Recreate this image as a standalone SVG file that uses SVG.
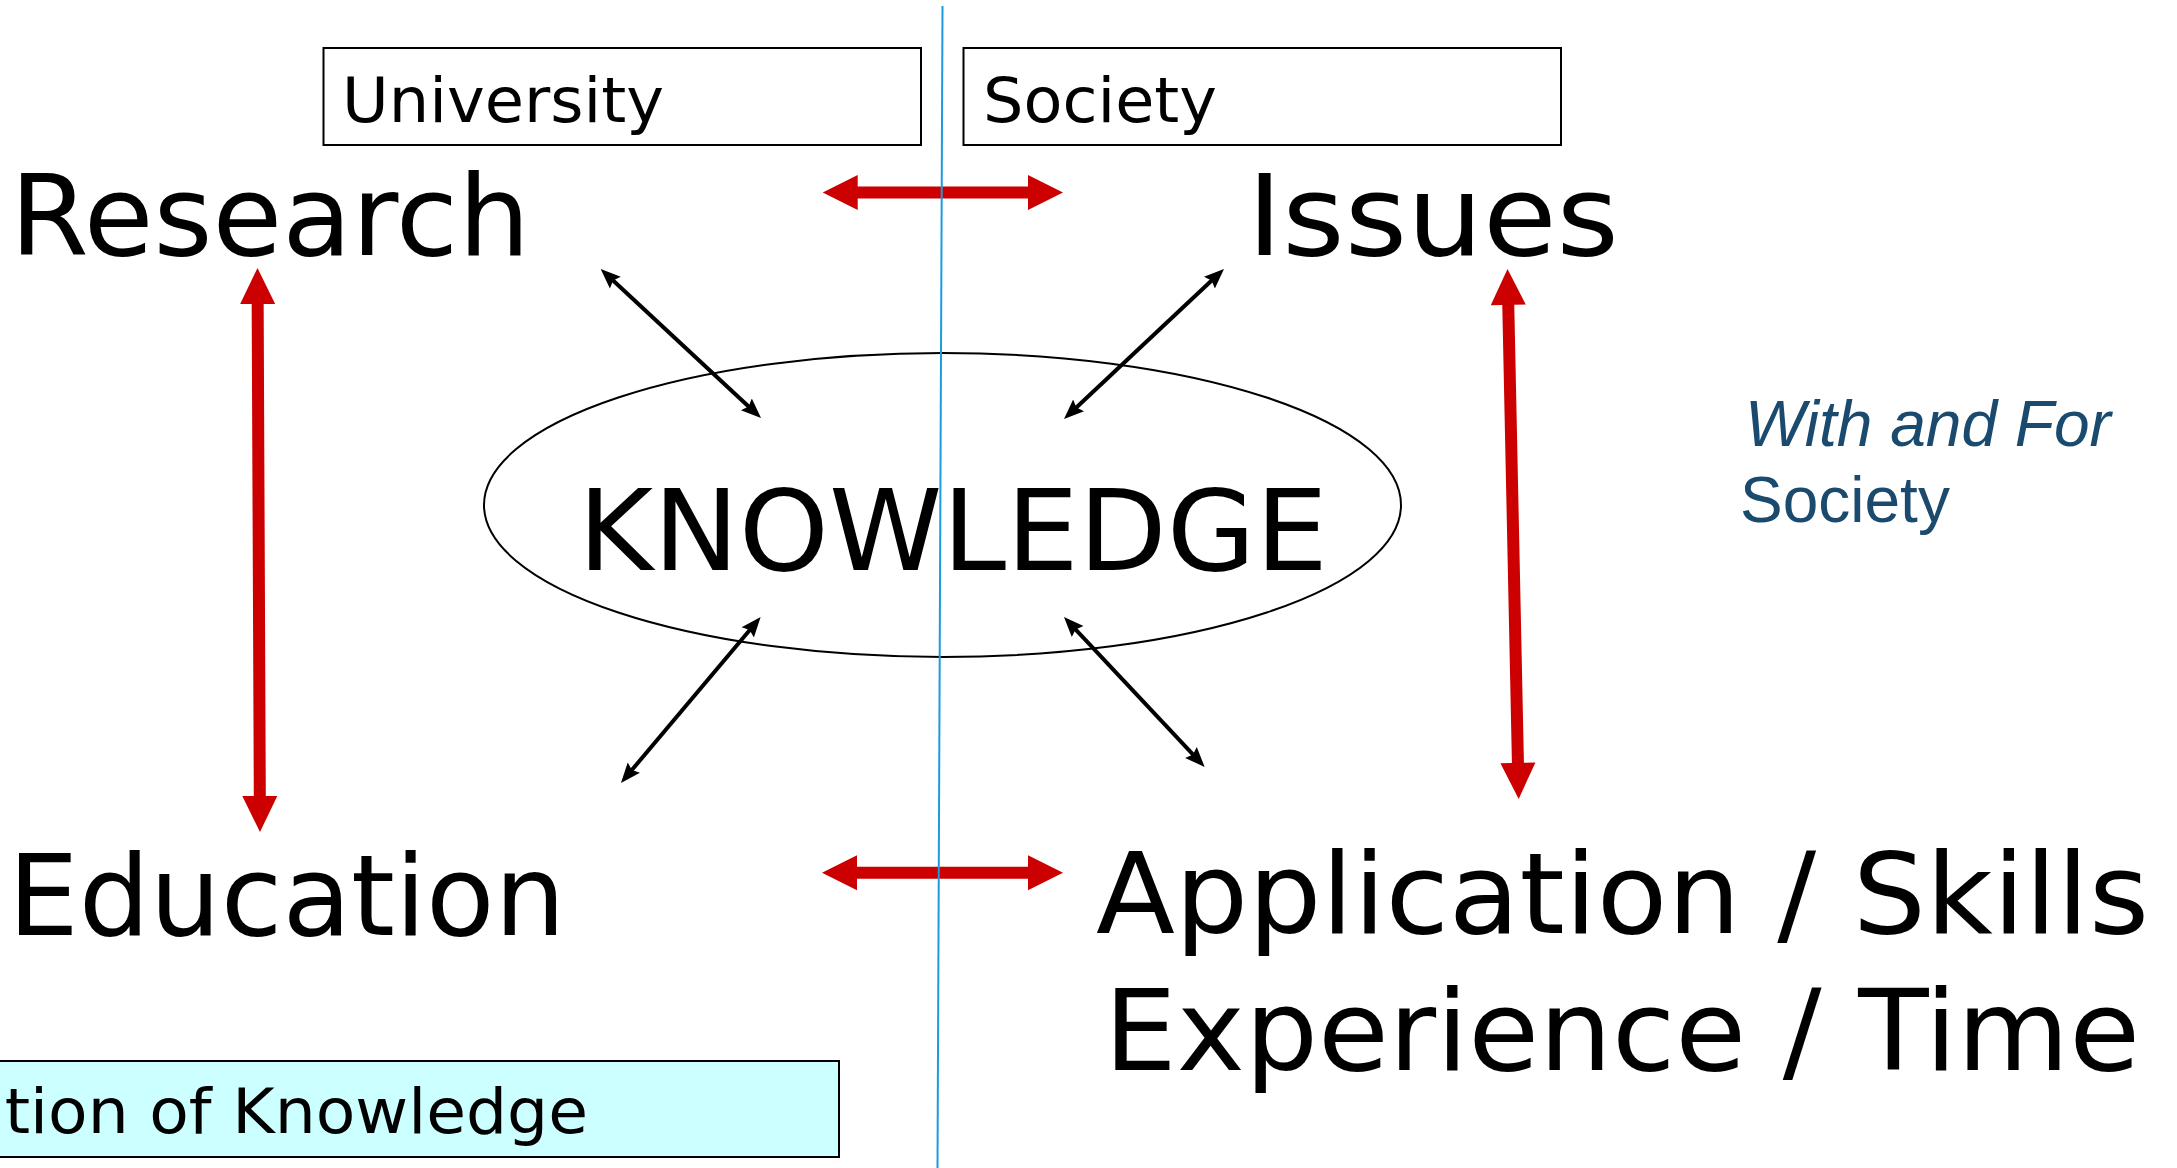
<svg xmlns="http://www.w3.org/2000/svg" width="2177" height="1168" viewBox="0 0 2177 1168">
<style>
.big{font-family:"DejaVu Sans",Verdana,sans-serif;font-size:112px;fill:#000}
.mid{font-family:"DejaVu Sans",Verdana,sans-serif;font-size:63px;fill:#000}
.blue{font-family:"Liberation Sans",Arial,sans-serif;font-size:64px;fill:#1A4A6E}
.box{fill:#fff;stroke:#000;stroke-width:2}
.red{fill:#CC0000}
.blk{stroke:#000;stroke-width:4;fill:none;marker-start:url(#ah);marker-end:url(#ah)}
</style>
<defs>
<marker id="ah" markerUnits="userSpaceOnUse" markerWidth="24" markerHeight="20" viewBox="0 -10 24 20" refX="10" refY="0" orient="auto-start-reverse">
<path d="M0,-8 L20,0 L0,8 L3,0 Z" fill="#000"/>
</marker>
</defs>
<rect width="2177" height="1168" fill="#fff"/>

<g id="university">
<rect class="box" x="323.5" y="48" width="597.5" height="97"/>
<text class="mid" x="342" y="121.5" textLength="322" lengthAdjust="spacingAndGlyphs">University</text>
</g>
<g id="society">
<rect class="box" x="963.5" y="48" width="597.5" height="97"/>
<text class="mid" x="983" y="121.5" textLength="234" lengthAdjust="spacingAndGlyphs">Society</text>
</g>
<g id="knowledge-box">
<rect x="-10" y="1061" width="849" height="96" fill="#CCFFFF" stroke="#000" stroke-width="2"/>
<text class="mid" x="-35" y="1133" font-size="62" textLength="623" lengthAdjust="spacingAndGlyphs">ation of Knowledge</text>
</g>

<g id="research"><text class="big" x="10" y="255" textLength="520" lengthAdjust="spacingAndGlyphs">Research</text></g>
<g id="issues"><text class="big" x="1247" y="255" textLength="372" lengthAdjust="spacingAndGlyphs">Issues</text></g>
<g id="education"><text class="big" x="8" y="935">Education</text></g>
<g id="application"><text class="big" font-size="114" x="1096" y="933" textLength="1053" lengthAdjust="spacingAndGlyphs">Application / Skills</text>
<text class="big" font-size="114" x="1104" y="1070" textLength="1036" lengthAdjust="spacingAndGlyphs">Experience / Time</text></g>
<g id="knowledge">
<ellipse cx="942.5" cy="505" rx="458.5" ry="152" fill="none" stroke="#000" stroke-width="2"/>
<text class="big" font-size="113" x="578" y="570" textLength="750" lengthAdjust="spacingAndGlyphs">KNOWLEDGE</text>
</g>
<g id="with-for">
<text class="blue" x="1745" y="446" font-style="italic">With and For</text>
<text class="blue" x="1740" y="522">Society</text>
</g>

<g id="connectors">
<path class="red" transform="translate(822.7,192.5)" d="M0,0 L35,-17.5 L35,-6 L205.3,-6 L205.3,-17.5 L240.3,0 L205.3,17.5 L205.3,6 L35,6 L35,17.5 Z"/>
<path class="red" transform="translate(822,872.7)" d="M0,0 L35,-17.5 L35,-6 L206,-6 L206,-17.5 L241,0 L206,17.5 L206,6 L35,6 L35,17.5 Z"/>
<path class="red" transform="translate(257.5,268) rotate(89.75)" d="M0,0 L36,-17.5 L36,-6 L528,-6 L528,-17.5 L564,0 L528,17.5 L528,6 L36,6 L36,17.5 Z"/>
<path class="red" transform="translate(1507.5,269) rotate(88.79)" d="M0,0 L36,-17.5 L36,-6 L494,-6 L494,-17.5 L530,0 L494,17.5 L494,6 L36,6 L36,17.5 Z"/>
<line class="blk" x1="608" y1="275.8" x2="753.7" y2="411.2"/>
<line class="blk" x1="1216.7" y1="275.8" x2="1071.3" y2="412.2"/>
<line class="blk" x1="627.4" y1="775.3" x2="754.2" y2="624.7"/>
<line class="blk" x1="1197.8" y1="759.7" x2="1070.8" y2="624.3"/>
<line x1="942.5" y1="6" x2="937.5" y2="1168" stroke="#1E9BE0" stroke-width="2"/>
</g>
</svg>
